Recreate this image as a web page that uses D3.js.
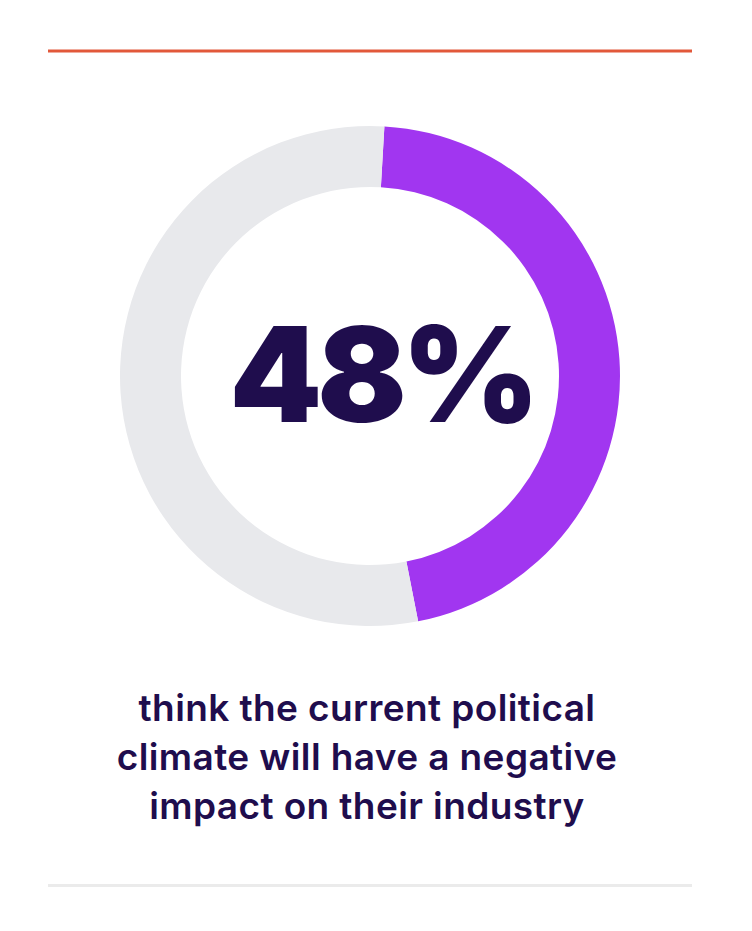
<!DOCTYPE html>
<html>
<head>
<meta charset="utf-8">
<script src="https://cdn.jsdelivr.net/npm/d3@7"></script>
<style>
  body { margin: 0; background: #fff; }
</style>
</head>
<body>
<svg id="chart" width="752" height="931"></svg>
<script>
// values as drawn on the ring (purple arc is a bit shorter than 48% in the picture)
var segments = ['agree', 'rest'];
var ringValues = [46, 54];
var ringColors = ['#a136f0', '#e8e9ec'];
var headline = '48%';
var captionLines = [
  'think the current political',
  'climate will have a negative',
  'impact on their industry'
];

var svg = d3.select('#chart'),
  width = +svg.attr('width');

// rules at top and bottom
svg.append('rect')
  .attr('x', 48).attr('y', 49.5)
  .attr('width', 644).attr('height', 3)
  .attr('fill', '#e2583a');

svg.append('rect')
  .attr('x', 48).attr('y', 884)
  .attr('width', 644).attr('height', 3)
  .attr('fill', '#ebebeb');

var cx = 370, cy = 376;
var outerR = 250, innerR = 189;

var pie = d3.pie()
  .sort(null)
  .startAngle(3.3 * Math.PI / 180)
  .endAngle(2 * Math.PI + 3.3 * Math.PI / 180);

var arc = d3.arc()
  .innerRadius(innerR)
  .outerRadius(outerR);

var g = svg.append('g')
  .attr('transform', 'translate(' + cx + ',' + cy + ')');

g.selectAll('path')
  .data(pie(ringValues))
  .enter()
  .append('path')
  .attr('d', arc)
  .attr('fill', (d, i) => ringColors[i])
  .attr('class', (d, i) => segments[i]);

g.append('text')
  .attr('x', 12)
  .attr('y', 46)
  .attr('text-anchor', 'middle')
  .attr('font-family', 'Inter, Lato, sans-serif')
  .attr('font-weight', 900)
  .attr('font-size', 132)
  .attr('letter-spacing', '-5')
  .attr('fill', '#1f0d4d')
  .text(headline);

svg.append('g')
  .selectAll('text')
  .data(captionLines)
  .enter()
  .append('text')
  .attr('x', 367)
  .attr('y', (d, i) => 721 + i * 49)
  .attr('text-anchor', 'middle')
  .attr('font-family', 'Inter, Lato, sans-serif')
  .attr('font-weight', 600)
  .attr('font-size', 37)
  .attr('letter-spacing', '0.4')
  .attr('fill', '#1f0d4d')
  .text(d => d);
</script>
</body>
</html>
